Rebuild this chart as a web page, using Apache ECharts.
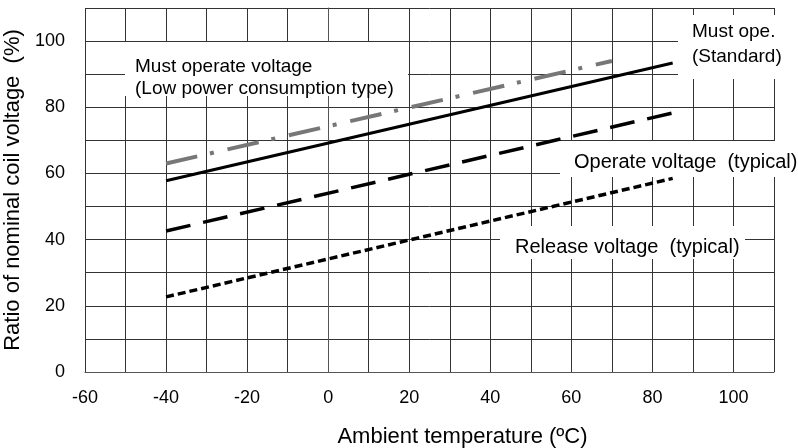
<!DOCTYPE html>
<html>
<head>
<meta charset="utf-8">
<script src="https://cdn.jsdelivr.net/npm/echarts@6/dist/echarts.min.js"></script>
<style>html,body{margin:0;padding:0;background:#fff}#c{width:798px;height:448px}</style>
</head>
<body>
<div id="c"></div>
<script>
// Data (temperature °C, ratio %)
const releaseTemp = [-40, 85];
const releaseVal = [22.7, 58.5];
const operateTemp = [-40, 85];
const operateVal = [42.6, 78.3];
const standardTemp = [-40, 85];
const standardVal = [57.8, 93.4];
const lowPowerTemp = [-40, 70];
const lowPowerVal = [63, 94];
const xTicks = [-60, -40, -20, 0, 20, 40, 60, 80, 100];
const yTicks = [0, 20, 40, 60, 80, 100];

const pairs = (xs, ys) => xs.map((x, i) => [x, ys[i]]);
const FONT = '"Liberation Sans", Arial, sans-serif';

const chart = echarts.init(document.getElementById('c'), null, {renderer: 'canvas'});

const labelBoxes = [
  {x: 125, y: 42, w: 283, h: 54, lines: ['Must operate voltage', '(Low power consumption type)'], tx: 135, ty: 56, fs: 19, lh: 22},
  {x: 678, y: 15, w: 120, h: 64, lines: ['Must ope.', '(Standard)'], tx: 692, ty: 19.5, fs: 19, lh: 25},
  {x: 560, y: 141, w: 238, h: 36, lines: ['Operate voltage  (typical)'], tx: 574, ty: 151, fs: 20, lh: 22},
  {x: 500, y: 226, w: 245, h: 33, lines: ['Release voltage  (typical)'], tx: 515, ty: 236, fs: 20, lh: 22}
];

const graphic = [];
labelBoxes.forEach(b => {
  graphic.push({type: 'rect', z: 1, shape: {x: b.x, y: b.y, width: b.w, height: b.h}, style: {fill: '#fff'}});
  graphic.push({type: 'text', z: 1, x: b.tx, y: b.ty, style: {text: b.lines.join('\n'), font: b.fs + 'px ' + FONT, fill: '#000', lineHeight: b.lh}});
});

const option = {
  animation: false,
  backgroundColor: '#fff',
  grid: {left: 85, right: 24, top: 8, bottom: 76, containLabel: false, outerBoundsMode: 'none'},
  xAxis: {
    type: 'value', min: -60, max: 110, interval: 10,
    name: 'Ambient temperature (ºC)', nameLocation: 'middle', nameGap: 54,
    nameTextStyle: {fontFamily: FONT, fontSize: 22, color: '#000', padding: [0, 0, 0, 66]},
    axisLine: {show: true, lineStyle: {color: '#555', width: 1}},
    axisTick: {show: false},
    axisLabel: {
      fontFamily: FONT, fontSize: 18, color: '#000', margin: 17,
      formatter: v => (xTicks.indexOf(v) >= 0 ? String(v) : '')
    },
    splitLine: {show: true, lineStyle: {color: '#333', width: 1}}
  },
  yAxis: {
    type: 'value', min: 0, max: 110, interval: 10,
    name: 'Ratio of nominal coil voltage  (%)', nameLocation: 'middle', nameGap: 47,
    nameTextStyle: {fontFamily: FONT, fontSize: 22, color: '#000'},
    axisLine: {show: true, lineStyle: {color: '#555', width: 1}},
    axisTick: {show: false},
    axisLabel: {
      fontFamily: FONT, fontSize: 18, color: '#000', margin: 20,
      formatter: v => (yTicks.indexOf(v) >= 0 ? String(v) : '')
    },
    splitLine: {show: true, lineStyle: {color: '#333', width: 1}}
  },
  graphic: graphic,
  series: [
    {type: 'line', data: pairs(releaseTemp, releaseVal), symbol: 'none', z: 3,
     lineStyle: {color: '#000', width: 3.5, type: [8, 4]}},
    {type: 'line', data: pairs(operateTemp, operateVal), symbol: 'none', z: 3,
     lineStyle: {color: '#000', width: 3.5, type: [25, 13]}},
    {type: 'line', data: pairs(standardTemp, standardVal), symbol: 'none', z: 3,
     lineStyle: {color: '#000', width: 3}},
    {type: 'line', data: pairs(lowPowerTemp, lowPowerVal), symbol: 'none', z: 3,
     lineStyle: {color: '#777', width: 4, type: [32, 13, 4, 14]}}
  ]
};
chart.setOption(option);
</script>
</body>
</html>
